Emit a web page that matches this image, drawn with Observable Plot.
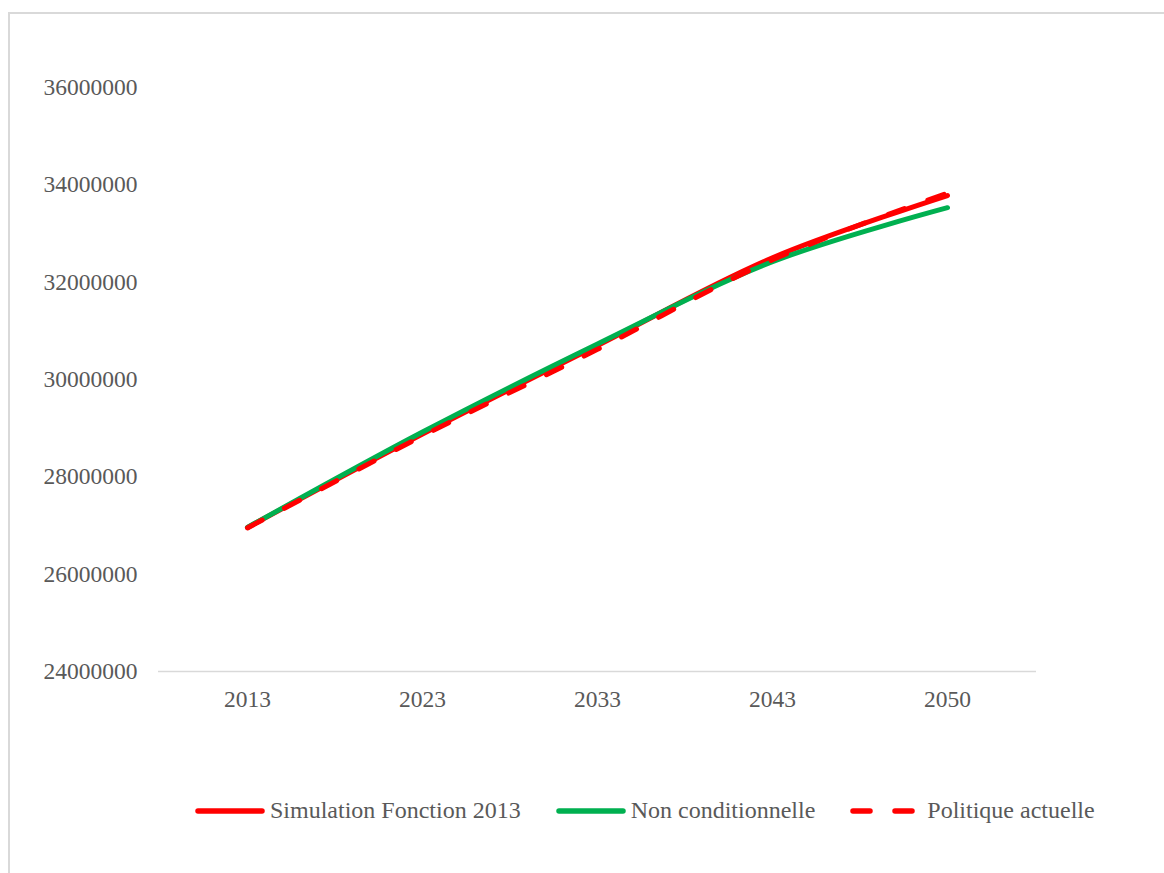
<!DOCTYPE html>
<html>
<head>
<meta charset="utf-8">
<script src="https://cdn.jsdelivr.net/npm/d3@7"></script>
<script src="https://cdn.jsdelivr.net/npm/@observablehq/plot@0.6"></script>
<style>
  html, body { margin: 0; padding: 0; background: #fff; overflow: hidden; }
  body { width: 1164px; height: 873px; position: relative; font-family: "Liberation Serif", "Times New Roman", serif; }
  #frame { position: absolute; left: 8px; top: 12px; width: 1200px; height: 900px; border-left: 2px solid #d9d9d9; border-top: 2px solid #d9d9d9; box-sizing: border-box; }
  #chart { position: absolute; left: 0; top: 0; }
  #legend { position: absolute; left: 195px; top: 797px; display: flex; align-items: center; font-size: 24px; color: #595959; white-space: nowrap; }
  .item { display: flex; align-items: center; margin-right: 35px; }
  .item svg { margin-right: 5px; }
</style>
</head>
<body>
<div id="frame"></div>
<div id="chart"></div>
<div id="legend"></div>
<script>
// ---- data ----
const years = ["2013", "2023", "2033", "2043", "2050"];
const seriesNames = ["Simulation Fonction 2013", "Non conditionnelle", "Politique actuelle"];
const simulation = [26960000, 28880000, 30700000, 32500000, 33780000];
const nonConditionnelle = [26960000, 28920000, 30730000, 32420000, 33530000];
const politique = [26950000, 28840000, 30620000, 32460000, 33830000];
const yTicks = [24000000, 26000000, 28000000, 30000000, 32000000, 34000000, 36000000];

const colors = { red: "#ff0000", green: "#00b050" };
const rows = (vals, name) => years.map((y, i) => ({ year: y, value: vals[i], series: name }));
const sim = rows(simulation, seriesNames[0]);
const nonc = rows(nonConditionnelle, seriesNames[1]);
const pol = rows(politique, seriesNames[2]);

const chart = Plot.plot({
  width: 1164,
  height: 740,
  marginLeft: 158,
  marginRight: 128,
  marginTop: 87,
  marginBottom: 69,
  style: { fontFamily: "'Liberation Serif', 'Times New Roman', serif", fontSize: "23.5px", color: "#595959", background: "transparent" },
  x: { type: "point", domain: years, padding: 0.5 },
  y: { domain: [24000000, 36000000] },
  marks: [
    Plot.axisY({ ticks: yTicks, tickFormat: d3.format("d"), tickSize: 0, tickPadding: 21, label: null, fill: "#595959" }),
    Plot.axisX({ tickSize: 0, tickPadding: 19, label: null, fill: "#595959" }),
    Plot.ruleY([24000000], { stroke: "#d9d9d9", strokeWidth: 1.5 }),
    Plot.line(sim, { x: "year", y: "value", stroke: colors.red, strokeWidth: 5, curve: "catmull-rom", strokeLinecap: "round" }),
    Plot.line(nonc, { x: "year", y: "value", stroke: colors.green, strokeWidth: 5, curve: "catmull-rom", strokeLinecap: "round" }),
    Plot.line(pol, { x: "year", y: "value", stroke: colors.red, strokeWidth: 5, curve: "catmull-rom", strokeLinecap: "round", strokeDasharray: "17,25" })
  ]
});
document.getElementById("chart").appendChild(chart);

// ---- legend ----
const legendSpec = [
  { name: seriesNames[0], color: colors.red, dash: null },
  { name: seriesNames[1], color: colors.green, dash: null },
  { name: seriesNames[2], color: colors.red, dash: "17,25" }
];
const legend = document.getElementById("legend");
legendSpec.forEach(s => {
  const item = document.createElement("div");
  item.className = "item";
  const w = s.dash ? 72 : 70;
  item.innerHTML = `<svg width="${w}" height="12"><line x1="3" y1="6" x2="${w - 3}" y2="6" stroke="${s.color}" stroke-width="5.5" stroke-linecap="round" ${s.dash ? `stroke-dasharray="${s.dash}"` : ""}/></svg><span>${s.name}</span>`;
  legend.appendChild(item);
});
</script>
</body>
</html>
